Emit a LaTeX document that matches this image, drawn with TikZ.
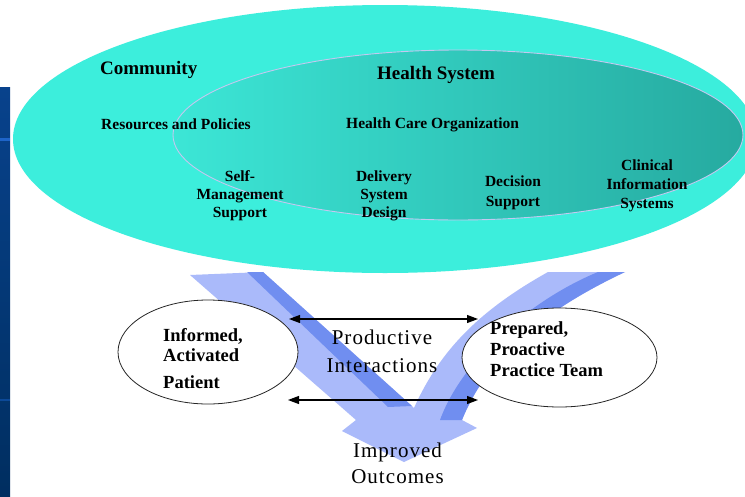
\documentclass[tikz,border=0pt]{standalone}
\usepackage{fontspec}
\setmainfont{Liberation Serif}
\newfontfamily\spacedserif[LetterSpace=5]{Liberation Serif}
\usetikzlibrary{shapes.geometric,arrows.meta}

\definecolor{commcyan}{RGB}{60,238,220}
\definecolor{hsleft}{RGB}{60,230,214}
\definecolor{hsright}{RGB}{38,170,160}
\definecolor{hsline}{RGB}{196,200,240}
\definecolor{chevlight}{RGB}{170,186,250}
\definecolor{chevdark}{RGB}{112,142,240}
\definecolor{stripetop}{RGB}{8,66,140}
\definecolor{stripebot}{RGB}{0,46,96}
\definecolor{stripeline}{RGB}{30,100,200}

\begin{document}
\begin{tikzpicture}[x=1pt,y=-1pt,
  zonelabel/.style={font=\bfseries\fontsize{19}{22}\selectfont, inner sep=0pt},
  itemlabel/.style={font=\bfseries\fontsize{15.5}{18}\selectfont, inner sep=0pt, align=center},
  actortext/.style={font=\bfseries\fontsize{18.5}{20}\selectfont, inner sep=0pt, align=left, anchor=west},
  flowtext/.style={font=\spacedserif\fontsize{21}{28}\selectfont, inner sep=0pt, align=center},
  actorellipse/.style={ellipse, draw=black!85, line width=0.8pt, fill=white, inner sep=0pt},
  bidir/.style={{Triangle[length=11pt,width=8pt]}-{Triangle[length=11pt,width=8pt]}, line width=1.1pt, black}
]
\useasboundingbox (0,0) rectangle (745,496);
\fill[white] (0,0) rectangle (745,496);

% slide edge strip
\shade[top color=stripetop, bottom color=stripebot] (0,87) rectangle (10,496);
\fill[stripeline] (0,138) rectangle (10,140.5);
\fill[stripetop!80!stripeline] (0,399) rectangle (10,400.5);

% community and health system
\node[ellipse, fill=commcyan, minimum width=744pt, minimum height=268pt, inner sep=0pt] (community) at (385,139) {};
\node[ellipse, draw=hsline, line width=0.9pt, left color=hsleft, right color=hsright,
      minimum width=570pt, minimum height=170pt, inner sep=0pt] (healthsys) at (458,135) {};

% outcome chevron
\fill[chevlight] (190,275) -- (263,272) -- (414,408)
  .. controls (440,350) and (480,310) .. (548,272) -- (625,272)
  .. controls (555,305) and (490,350) .. (462,420)
  -- (477,428) -- (404,462) -- (342,431) -- (356,420) -- cycle;
\fill[chevdark] (247,272) -- (263,272) -- (412,406) -- (388,407) -- cycle;
\fill[chevdark] (598,272) -- (625,272)
  .. controls (555,305) and (490,350) .. (462,420)
  -- (440,420) .. controls (462,360) and (530,300) .. (598,272) -- cycle;

% patient and team
\node[actorellipse, minimum width=180pt, minimum height=104pt] (patient) at (208,352) {};
\node[actorellipse, minimum width=195pt, minimum height=99pt] (team) at (559.5,357.5) {};

% interactions
\coordinate (upL) at (289,319);
\coordinate (upR) at (478,319);
\coordinate (loL) at (288,400);
\coordinate (loR) at (478,400);
\draw[bidir] (upL) -- (upR);
\draw[bidir] (loL) -- (loR);

% labels
\node[zonelabel, anchor=base west] (commlbl) at (100,74) {Community};
\node[zonelabel, anchor=base west] (hslbl) at (377,79) {Health System};
\node[itemlabel, anchor=base west] (rp) at (101,129) {Resources and Policies};
\node[itemlabel, anchor=base west] (hco) at (346,128) {Health Care Organization};
\node[itemlabel] (sms) at (240,196) {Self-\\Management\\Support};
\node[itemlabel] (dsd) at (384,196) {Delivery\\System\\Design};
\node[itemlabel, font=\bfseries\fontsize{15.5}{20}\selectfont] (ds) at (513,192.5) {Decision\\Support};
\node[itemlabel, font=\bfseries\fontsize{15.5}{19}\selectfont] (cis) at (647,185.3) {Clinical\\Information\\Systems};

\node[actortext] (patlbl) at (163,359) {Informed,\\Activated\\[7pt]Patient};
\node[actortext, font=\bfseries\fontsize{18.5}{21}\selectfont] (teamlbl) at (490,349.5) {Prepared,\\Proactive\\Practice Team};

\node[flowtext] (pi) at (382,351) {Productive\\Interactions};
\node[flowtext, font=\spacedserif\fontsize{21}{26}\selectfont] (io) at (397.5,463) {Improved\\Outcomes};
\end{tikzpicture}
\end{document}
